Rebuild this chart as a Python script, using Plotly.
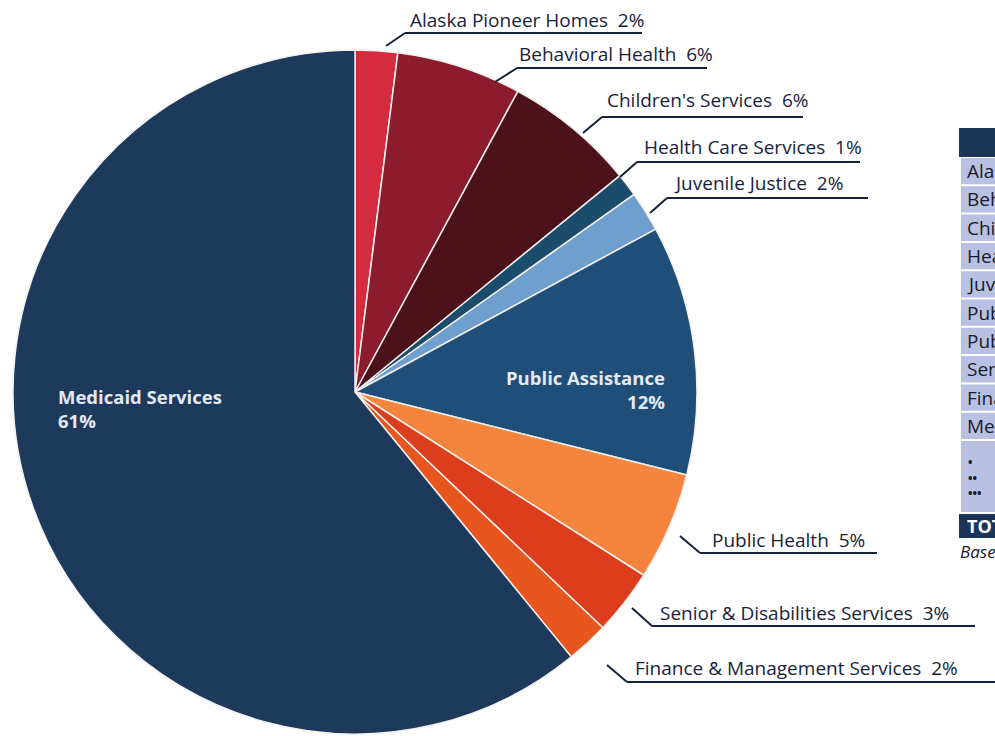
import plotly.graph_objects as go

# ---------------- data ----------------
divisions = [
    "Alaska Pioneer Homes", "Behavioral Health", "Children's Services",
    "Health Care Services", "Juvenile Justice", "Public Assistance",
    "Public Health", "Senior & Disabilities Services",
    "Finance & Management Services", "Medicaid Services",
]
shares = [2.0, 5.9, 6.2, 1.1, 1.9, 11.8, 5.1, 3.1, 2.0, 60.9]
slice_colors = ["#d42c3e", "#8c1c2c", "#4b121b", "#1b4c6c", "#6e9fcd",
                "#1f4f78", "#f5843f", "#dc3e1d", "#e8561f", "#1d3a5d"]

table_header = "Division"
table_notes = "<b>•<br>••<br>•••</b>"
table_total = "TOTAL"
footnote = "Based on FY2021 Authorized Budget"

W, H = 995, 736


def px(x):
    return x / W


def py(y):
    return 1 - y / H


# ---------------- layout helpers (positions in pixels) ----------------
# index, text-x, text-y(center), diag start, diag end, underline end x
outside = [
    (0, 408, 20, (386, 46), (405, 33), 642),
    (1, 517, 54, (495, 82), (517, 68), 707),
    (2, 605, 100, (583, 133), (602, 117), 803),
    (3, 642, 147, (620, 177), (637, 162), 860),
    (4, 672, 183, (650, 213), (667, 198), 868),
    (6, 710, 540, (680, 536), (700, 553), 877),
    (7, 658, 613, (632, 608), (652, 626), 975),
    (8, 633, 668, (607, 665), (627, 682), 1000),
]

fig = go.Figure()

fig.add_trace(go.Pie(
    labels=divisions,
    values=shares,
    sort=False,
    direction="clockwise",
    rotation=0,
    textinfo="none",
    hoverinfo="label+percent",
    marker=dict(colors=slice_colors, line=dict(color="#f4f0ee", width=1.5)),
    domain=dict(x=[px(13), px(697)], y=[py(734), py(50)]),
    showlegend=False,
))

annotations = []
shapes = []
ink = "#17233d"
for idx, tx, ty, (x0, y0), (x1, y1), ux in outside:
    pct = round(shares[idx])
    annotations.append(dict(
        x=px(tx), y=py(ty), xref="paper", yref="paper",
        xanchor="left", yanchor="middle", showarrow=False,
        text=f"{divisions[idx]}\u00a0\u00a0{pct}%",
        font=dict(family="Open Sans", size=19, color=ink),
    ))
    shapes.append(dict(type="line", xref="paper", yref="paper",
                       x0=px(x0), y0=py(y0), x1=px(x1), y1=py(y1),
                       line=dict(color=ink, width=2)))
    shapes.append(dict(type="line", xref="paper", yref="paper",
                       x0=px(x1), y0=py(y1), x1=px(ux), y1=py(y1),
                       line=dict(color=ink, width=2)))

# inside labels
annotations.append(dict(
    x=px(56), y=py(408), xref="paper", yref="paper",
    xanchor="left", yanchor="middle", align="left", showarrow=False,
    text=f"<b>{divisions[9]}<br>{round(shares[9])}%</b>",
    font=dict(family="Open Sans", size=18.5, color="#e3e9f2"),
))
annotations.append(dict(
    x=px(667), y=py(389), xref="paper", yref="paper",
    xanchor="right", yanchor="middle", align="right", showarrow=False,
    text=f"<b>{divisions[5]}<br>{round(shares[5])}%</b>",
    font=dict(family="Open Sans", size=18.5, color="#e3e9f2"),
))

# ---------------- side table (cut by the right edge) ----------------
dark = "#1c3557"
light = "#b8c1e2"
tbl_x0, tbl_x1, text_x = 959, 1010, 965
hdr_top, hdr_bot = 128, 157
row_h = 28.3
shapes.append(dict(type="rect", xref="paper", yref="paper",
                   x0=px(tbl_x0), x1=px(tbl_x1), y0=py(hdr_bot), y1=py(hdr_top),
                   fillcolor=dark, line=dict(width=0), layer="below"))
annotations.append(dict(
    x=px(1040), y=py((hdr_top + hdr_bot) / 2), xref="paper", yref="paper",
    xanchor="center", yanchor="middle", showarrow=False,
    text=f"<b>{table_header}</b>",
    font=dict(family="Open Sans", size=16, color="#ffffff"),
))
for i, name in enumerate(divisions):
    top = hdr_bot + i * row_h
    shapes.append(dict(type="rect", xref="paper", yref="paper",
                       x0=px(tbl_x0 + 2), x1=px(tbl_x1),
                       y0=py(top + row_h - 1), y1=py(top + 1),
                       fillcolor=light, line=dict(width=0), layer="below"))
    annotations.append(dict(
        x=px(text_x), y=py(top + row_h / 2), xref="paper", yref="paper",
        xanchor="left", yanchor="middle", showarrow=False,
        text=name.replace(" ", "\u00a0"),
        font=dict(family="Open Sans", size=19, color="#1a1a2a"),
    ))
notes_top = hdr_bot + len(divisions) * row_h
notes_bot = 512
shapes.append(dict(type="rect", xref="paper", yref="paper",
                   x0=px(tbl_x0 + 2), x1=px(tbl_x1),
                   y0=py(notes_bot), y1=py(notes_top + 1),
                   fillcolor=light, line=dict(width=0), layer="below"))
annotations.append(dict(
    x=px(text_x + 1), y=py((notes_top + notes_bot) / 2 + 2), xref="paper", yref="paper",
    xanchor="left", yanchor="middle", align="left", showarrow=False,
    text=table_notes,
    font=dict(family="Open Sans", size=12, color="#1a1a2a"),
))
tot_top, tot_bot = 514, 538
shapes.append(dict(type="rect", xref="paper", yref="paper",
                   x0=px(tbl_x0), x1=px(tbl_x1), y0=py(tot_bot), y1=py(tot_top),
                   fillcolor=dark, line=dict(width=0), layer="below"))
annotations.append(dict(
    x=px(text_x), y=py((tot_top + tot_bot) / 2), xref="paper", yref="paper",
    xanchor="left", yanchor="middle", showarrow=False,
    text=f"<b>{table_total}</b>",
    font=dict(family="Open Sans", size=18, color="#ffffff"),
))
annotations.append(dict(
    x=px(958), y=py(551), xref="paper", yref="paper",
    xanchor="left", yanchor="middle", showarrow=False,
    text=f"<i>{footnote}</i>",
    font=dict(family="Open Sans", size=17, color="#1a1a2a"),
))

fig.update_layout(
    width=W, height=H,
    margin=dict(l=0, r=0, t=0, b=0),
    paper_bgcolor="#ffffff",
    plot_bgcolor="#ffffff",
    annotations=annotations,
    shapes=shapes,
)

fig.write_html(
    "out.html",
    config={"displayModeBar": False},
    post_script="document.body.style.margin='0';document.body.style.overflow='hidden';",
)
